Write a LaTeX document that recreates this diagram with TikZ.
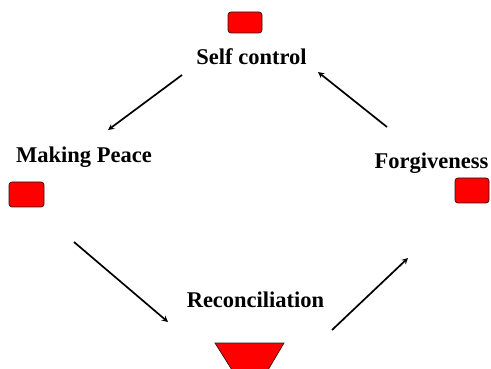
\documentclass[tikz,border=0pt]{standalone}
\usepackage{fontspec}
\setmainfont{Liberation Serif}
\usepackage{tikz}
\usetikzlibrary{arrows,positioning,calc}
\definecolor{boxred}{RGB}{255,0,0}
\definecolor{edgedark}{RGB}{50,20,20}

\begin{document}
\begin{tikzpicture}[
    x=1pt, y=-1pt,
    label/.style={anchor=base, inner sep=0pt, font=\bfseries\fontsize{22.5}{26}\selectfont},
    box/.style={rectangle, draw=edgedark, fill=boxred, rounded corners=3pt, line width=0.7pt, inner sep=0pt},
    arrow/.style={->, >=stealth, line width=1.7pt}
]
    \useasboundingbox (0,0) rectangle (491,369);

    \node[label] (self) at (251.5,65) {Self control};
    \node[label] (peace) at (84,163) {Making Peace};
    \node[label] (forgive) at (431.5,168) {Forgiveness};
    \node[label] (recon) at (255.5,308) {Reconciliation};

    \node[box, minimum width=34pt, minimum height=21pt] (selfbox) at (245,22.5) {};
    \node[box, minimum width=35pt, minimum height=25pt] (peacebox) at (26.5,194.5) {};
    \node[box, minimum width=34pt, minimum height=25pt] (forgivebox) at (472,190.5) {};
    \draw[draw=edgedark, fill=boxred, line width=0.7pt]
        (215,343) -- (284,343) -- (268,370) -- (232,370) -- cycle;

    % arrow ends
    \coordinate (a1) at (182,75);
    \coordinate (b1) at (108,130);
    \coordinate (a2) at (387,127);
    \coordinate (b2) at (318,72);
    \coordinate (a3) at (74,242);
    \coordinate (b3) at (168,322);
    \coordinate (a4) at (332,330);
    \coordinate (b4) at (408,258);

    \draw[arrow] (a1) -- (b1);
    \draw[arrow] (a2) -- (b2);
    \draw[arrow] (a3) -- (b3);
    \draw[arrow] (a4) -- (b4);
\end{tikzpicture}
\end{document}
